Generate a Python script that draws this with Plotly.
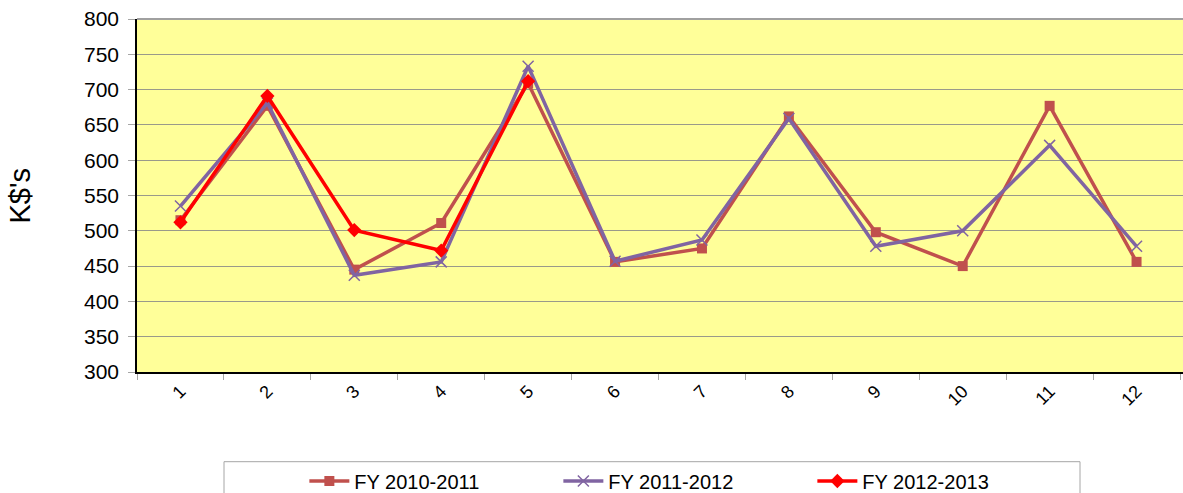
import plotly.graph_objects as go

months = ["1", "2", "3", "4", "5", "6", "7", "8", "9", "10", "11", "12"]
fy_2010_2011 = [515, 677, 445, 511, 709, 456, 475, 662, 498, 450, 677, 456]
fy_2011_2012 = [535, 681, 437, 456, 733, 457, 487, 659, 478, 500, 621, 478]
fy_2012_2013 = [512, 691, 501, 472, 712]
months_2012 = months[:5]

W, H = 1183, 493
L, T, B = 137, 19, 121
PW = W - L
PH = H - T - B

fig = go.Figure()
fig.add_trace(go.Scatter(
    x=months, y=fy_2010_2011, name="FY 2010-2011", mode="lines+markers",
    line=dict(color="#C0504D", width=3.5),
    marker=dict(symbol="square", size=10, color="#C0504D")))
fig.add_trace(go.Scatter(
    x=months, y=fy_2011_2012, name="FY 2011-2012", mode="lines+markers",
    line=dict(color="#8064A2", width=3.5),
    marker=dict(symbol="x-thin", size=11, line=dict(color="#8064A2", width=1.5), color="#8064A2")))
fig.add_trace(go.Scatter(
    x=months_2012, y=fy_2012_2013, name="FY 2012-2013", mode="lines+markers",
    line=dict(color="#FF0000", width=3.5),
    marker=dict(symbol="diamond", size=11, color="#FF0000")))

fig.update_layout(
    width=W, height=H,
    margin=dict(l=L, r=0, t=T, b=B, autoexpand=False),
    paper_bgcolor="white",
    plot_bgcolor="#FFFF99",
    font=dict(family="Liberation Sans, Arial, sans-serif", color="black", size=18),
    showlegend=True,
    legend=dict(
        orientation="h", x=0.160, xanchor="left", y=-0.2535, yanchor="top",
        borderwidth=0, bgcolor="rgba(0,0,0,0)",
        font=dict(size=20), entrywidth=199, itemwidth=40,
    ),
)
fig.update_xaxes(
    type="category", range=[-0.5, 11.5 + 3 / 87.2],
    tickson="boundaries", ticks="outside", ticklen=6, tickcolor="#A6A6A6",
    tickangle=-45, tickfont=dict(size=18),
    showline=True, linecolor="black", linewidth=1.5,
    showgrid=False, mirror=False,
)
fig.update_yaxes(
    range=[300, 800], dtick=50,
    ticks="outside", ticklen=7, tickcolor="#A6A6A6",
    tickfont=dict(size=21), ticklabelstandoff=5,
    showline=True, linecolor="black", linewidth=1.5,
    showgrid=True, gridcolor="#9A9A8A", gridwidth=1,
    zeroline=False,
)
fig.add_annotation(text="K$'s", xref="paper", yref="paper",
                   x=(19 - L) / PW, y=0.5, xanchor="center", yanchor="middle",
                   textangle=-90, showarrow=False, font=dict(size=29))
# top border line of plot area
fig.add_shape(type="line", xref="paper", yref="paper", x0=0, x1=1, y0=1, y1=1,
              line=dict(color="#A0A0A0", width=2))
# legend frame
fig.add_shape(type="rect", xref="paper", yref="paper",
              x0=(224 - L) / PW, x1=(1080 - L) / PW,
              y0=-0.2541, y1=-0.40,
              line=dict(color="#A6A6A6", width=1), fillcolor="rgba(0,0,0,0)")

fig.write_html("out.html",
               config={"displayModeBar": False},
               post_script="document.body.style.margin='0';document.body.style.overflow='hidden';")
